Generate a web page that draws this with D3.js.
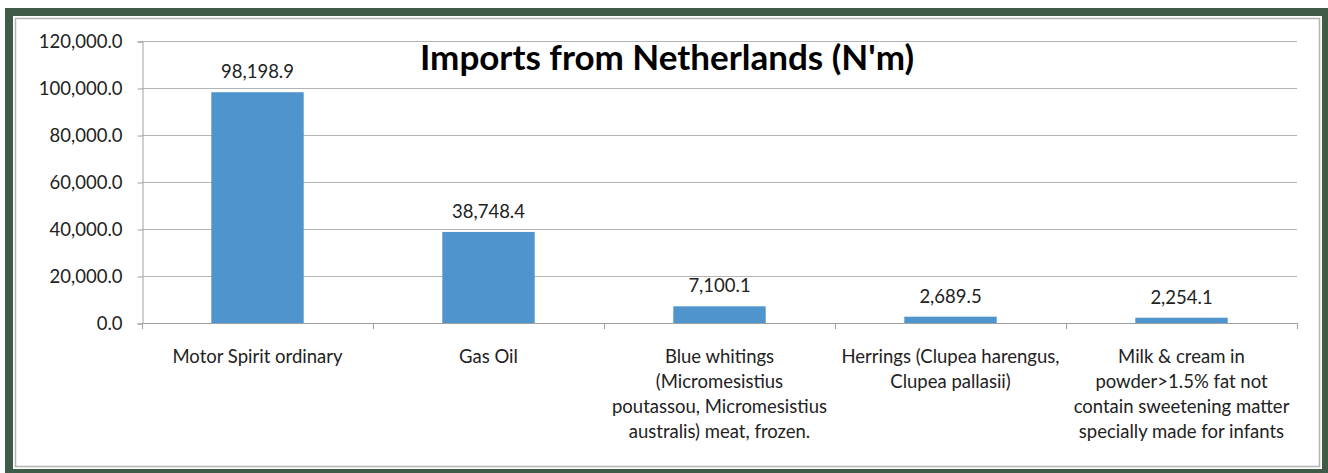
<!DOCTYPE html>
<html>
<head>
<meta charset="utf-8">
<script src="https://cdn.jsdelivr.net/npm/d3@7"></script>
<style>
  body { margin: 0; background: #ffffff; }
  svg { display: block; font-family: Lato, "Open Sans", sans-serif; }
</style>
</head>
<body>
<svg id="chart"></svg>
<script>
const WIDTH = 1328;
const HEIGHT = 473;
const PLOT = { left: 142, right: 1297, top: 41, bottom: 323 };

const categories = [
  ["Motor Spirit ordinary"],
  ["Gas Oil"],
  ["Blue whitings", "(Micromesistius", "poutassou, Micromesistius", "australis) meat,  frozen."],
  ["Herrings (Clupea harengus,", "Clupea pallasii)"],
  ["Milk & cream in", "powder>1.5% fat not", "contain sweetening matter", "specially made for infants"]
];
const values = [98198.9, 38748.4, 7100.1, 2689.5, 2254.1];
const yTicks = [0, 20000, 40000, 60000, 80000, 100000, 120000];
const title = "Imports from Netherlands (N'm)";

const svg = d3.select("#chart").attr("width", WIDTH).attr("height", HEIGHT);

// frame: green border, white panel, grey inner outline
svg.append("rect").attr("x", 5).attr("y", 8).attr("width", WIDTH - 5).attr("height", HEIGHT - 8).attr("fill", "#3e5c47");
svg.append("rect").attr("x", 13).attr("y", 16).attr("width", 1309).attr("height", 453).attr("fill", "#ffffff");
svg.append("rect").attr("x", 15.5).attr("y", 18.5).attr("width", 1304).attr("height", 448)
  .attr("fill", "none").attr("stroke", "#b4b4b4").attr("stroke-width", 1.5);

const keys = d3.range(categories.length);
const x = d3.scaleBand().domain(keys).range([PLOT.left, PLOT.right]).paddingInner(0.6).paddingOuter(0.3);
const slot = d3.scaleBand().domain(keys).range([PLOT.left, PLOT.right]).padding(0);
const y = d3.scaleLinear().domain([0, 120000]).range([PLOT.bottom, PLOT.top]);

// gridlines
svg.append("g")
  .selectAll("line")
  .data(yTicks.filter((t) => t > 0))
  .join("line")
  .attr("x1", PLOT.left)
  .attr("x2", PLOT.right)
  .attr("y1", (t) => Math.round(y(t)) + 0.5)
  .attr("y2", (t) => Math.round(y(t)) + 0.5)
  .attr("stroke", "#b3b3b3")
  .attr("stroke-width", 1);

// y axis
const yAxis = svg.append("g")
  .attr("transform", `translate(${PLOT.left + 0.5},0.5)`)
  .call(d3.axisLeft(y).tickValues(yTicks).tickFormat(d3.format(",.1f")).tickSize(5).tickPadding(15));
yAxis.select(".domain").attr("stroke", "#a0a0a0");
yAxis.selectAll(".tick line").attr("stroke", "#a0a0a0");
yAxis.selectAll(".tick text").attr("font-size", 18.5).attr("fill", "#222").attr("font-family", "Lato, sans-serif");

// bars
svg.append("g")
  .selectAll("rect")
  .data(values)
  .join("rect")
  .attr("x", (v, i) => x(i))
  .attr("width", x.bandwidth())
  .attr("y", (v) => y(v))
  .attr("height", (v) => PLOT.bottom - y(v))
  .attr("fill", "#4f94cd");

// x axis line + boundary ticks
const boundaries = keys.map((i) => slot(i)).concat([PLOT.right]);
svg.append("line")
  .attr("x1", PLOT.left).attr("x2", PLOT.right)
  .attr("y1", PLOT.bottom + 0.5).attr("y2", PLOT.bottom + 0.5)
  .attr("stroke", "#a0a0a0");
svg.append("g")
  .selectAll("line")
  .data(boundaries)
  .join("line")
  .attr("x1", (b) => Math.round(b) + 0.5)
  .attr("x2", (b) => Math.round(b) + 0.5)
  .attr("y1", PLOT.bottom)
  .attr("y2", PLOT.bottom + 6)
  .attr("stroke", "#a0a0a0");

// value labels
svg.append("g")
  .selectAll("text")
  .data(values)
  .join("text")
  .attr("x", (v, i) => x(i) + x.bandwidth() / 2)
  .attr("y", (v) => y(v) - 14)
  .attr("text-anchor", "middle")
  .attr("font-size", 18.5)
  .attr("fill", "#222")
  .text((v) => d3.format(",.1f")(v));

// category labels
const catLabels = svg.append("g")
  .selectAll("text")
  .data(categories)
  .join("text")
  .attr("x", (c, i) => slot(i) + slot.bandwidth() / 2)
  .attr("y", 363)
  .attr("text-anchor", "middle")
  .attr("font-size", 18.5)
  .attr("fill", "#222");
catLabels.selectAll("tspan")
  .data((c) => c)
  .join("tspan")
  .attr("x", function () { return this.parentNode.getAttribute("x"); })
  .attr("dy", (line, j) => (j === 0 ? 0 : 25))
  .text((line) => line);

// title
svg.append("text")
  .attr("x", 667)
  .attr("y", 70)
  .attr("text-anchor", "middle")
  .attr("font-size", 35)
  .attr("font-weight", "bold")
  .attr("fill", "#000")
  .text(title);
</script>
</body>
</html>
